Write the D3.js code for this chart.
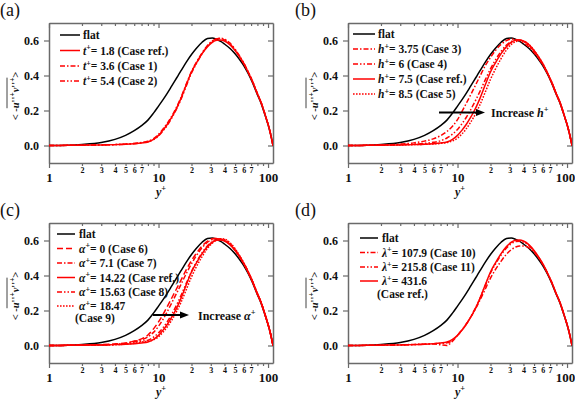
<!DOCTYPE html>
<html><head><meta charset="utf-8">
<script src="https://cdn.jsdelivr.net/npm/d3@7"></script>
<style>
html,body{margin:0;padding:0;background:#fff;}
svg text{font-family:"Liberation Serif","Times New Roman",Times,"DejaVu Serif",serif !important;}
</style></head>
<body>
<svg id="chart" width="575" height="401"></svg>
<script>
// ---------- data ----------
const yPlus = [1, 1.5, 2, 3, 4, 5, 6, 7, 8, 9, 10, 11, 12, 13, 14, 15, 16, 18, 20, 22, 25, 28, 31, 34, 37, 40, 45, 50, 55, 60, 66, 72, 80, 86, 91, 96, 100, 105, 111];

const flat = [0.000, 0.002, 0.006, 0.017, 0.035, 0.058, 0.085, 0.114, 0.145, 0.185,
  0.225, 0.262, 0.298, 0.333, 0.366, 0.397, 0.426, 0.478, 0.520, 0.553,
  0.590, 0.611, 0.614, 0.606, 0.595, 0.580, 0.554, 0.524, 0.491, 0.457,
  0.410, 0.360, 0.290, 0.245, 0.200, 0.155, 0.120, 0.070, 0.000];

const caseRef = [0.000, 0.001, 0.002, 0.003, 0.005, 0.007, 0.010, 0.014, 0.020, 0.035,
  0.058, 0.088, 0.120, 0.155, 0.190, 0.228, 0.268, 0.350, 0.420, 0.468,
  0.525, 0.565, 0.590, 0.601, 0.603, 0.597, 0.575, 0.543, 0.506, 0.468,
  0.417, 0.366, 0.294, 0.248, 0.203, 0.157, 0.121, 0.071, 0.000];

const caseT36 = [0.000, 0.001, 0.002, 0.003, 0.005, 0.008, 0.011, 0.016, 0.024, 0.040,
  0.064, 0.094, 0.126, 0.160, 0.196, 0.234, 0.273, 0.354, 0.423, 0.472,
  0.530, 0.572, 0.598, 0.610, 0.611, 0.604, 0.580, 0.547, 0.509, 0.470,
  0.419, 0.368, 0.296, 0.250, 0.205, 0.158, 0.122, 0.072, 0.000];

const caseT54 = [0.000, 0.001, 0.002, 0.003, 0.005, 0.008, 0.012, 0.017, 0.022, 0.033,
  0.055, 0.084, 0.115, 0.150, 0.186, 0.223, 0.262, 0.343, 0.414, 0.464,
  0.524, 0.568, 0.596, 0.609, 0.613, 0.608, 0.585, 0.550, 0.512, 0.472,
  0.421, 0.370, 0.297, 0.251, 0.205, 0.159, 0.123, 0.072, 0.000];

const caseH375 = [0.000, 0.001, 0.003, 0.008, 0.015, 0.025, 0.038, 0.056, 0.080, 0.110,
  0.148, 0.195, 0.240, 0.282, 0.322, 0.360, 0.395, 0.458, 0.503, 0.540,
  0.578, 0.600, 0.608, 0.606, 0.599, 0.587, 0.562, 0.531, 0.496, 0.461,
  0.413, 0.362, 0.291, 0.246, 0.201, 0.156, 0.120, 0.070, 0.000];

const caseH6 = [0.000, 0.001, 0.002, 0.005, 0.008, 0.012, 0.018, 0.027, 0.043, 0.065,
  0.092, 0.125, 0.160, 0.197, 0.235, 0.272, 0.308, 0.378, 0.438, 0.485,
  0.538, 0.574, 0.594, 0.603, 0.603, 0.595, 0.571, 0.539, 0.503, 0.465,
  0.415, 0.364, 0.292, 0.247, 0.202, 0.156, 0.120, 0.071, 0.000];

const caseH85 = [0.000, 0.001, 0.002, 0.003, 0.005, 0.007, 0.009, 0.012, 0.017, 0.026,
  0.042, 0.066, 0.095, 0.127, 0.160, 0.195, 0.232, 0.308, 0.378, 0.432,
  0.497, 0.546, 0.578, 0.594, 0.599, 0.597, 0.576, 0.544, 0.507, 0.469,
  0.418, 0.367, 0.295, 0.249, 0.204, 0.157, 0.121, 0.071, 0.000];

const caseA0 = [0.000, 0.001, 0.003, 0.005, 0.009, 0.015, 0.025, 0.038, 0.060, 0.095,
  0.135, 0.178, 0.222, 0.263, 0.302, 0.338, 0.372, 0.435, 0.485, 0.524,
  0.568, 0.597, 0.610, 0.613, 0.608, 0.599, 0.577, 0.545, 0.508, 0.469,
  0.418, 0.367, 0.295, 0.249, 0.204, 0.157, 0.121, 0.071, 0.000];

const caseA71 = [0.000, 0.001, 0.002, 0.004, 0.007, 0.012, 0.025, 0.033, 0.050, 0.075,
  0.110, 0.150, 0.193, 0.235, 0.275, 0.312, 0.348, 0.413, 0.467, 0.510,
  0.558, 0.590, 0.605, 0.610, 0.607, 0.600, 0.578, 0.545, 0.508, 0.469,
  0.418, 0.367, 0.295, 0.249, 0.204, 0.157, 0.121, 0.071, 0.000];

const caseA1563 = [0.000, 0.001, 0.002, 0.003, 0.005, 0.009, 0.020, 0.025, 0.030, 0.048,
  0.072, 0.102, 0.135, 0.170, 0.208, 0.246, 0.284, 0.358, 0.422, 0.472,
  0.530, 0.570, 0.595, 0.607, 0.609, 0.605, 0.583, 0.549, 0.511, 0.471,
  0.420, 0.368, 0.296, 0.250, 0.204, 0.158, 0.121, 0.071, 0.000];

const caseA1847 = [0.000, 0.001, 0.002, 0.003, 0.005, 0.008, 0.013, 0.020, 0.025, 0.032,
  0.050, 0.076, 0.106, 0.138, 0.172, 0.208, 0.245, 0.322, 0.392, 0.446,
  0.508, 0.555, 0.585, 0.603, 0.610, 0.608, 0.587, 0.553, 0.514, 0.474,
  0.422, 0.370, 0.297, 0.251, 0.205, 0.158, 0.122, 0.072, 0.000];

const caseL1079 = [0.000, 0.001, 0.002, 0.004, 0.006, 0.008, 0.010, 0.004, 0.000, 0.025,
  0.058, 0.090, 0.122, 0.156, 0.190, 0.224, 0.258, 0.325, 0.385, 0.430,
  0.482, 0.522, 0.548, 0.563, 0.569, 0.569, 0.558, 0.534, 0.501, 0.464,
  0.415, 0.364, 0.292, 0.247, 0.202, 0.156, 0.120, 0.070, 0.000];

const caseL2158 = [0.000, 0.001, 0.002, 0.003, 0.005, 0.007, 0.010, 0.012, 0.015, 0.030,
  0.058, 0.089, 0.122, 0.157, 0.193, 0.230, 0.268, 0.345, 0.414, 0.461,
  0.517, 0.557, 0.582, 0.594, 0.596, 0.591, 0.570, 0.539, 0.503, 0.466,
  0.416, 0.365, 0.293, 0.248, 0.203, 0.157, 0.121, 0.071, 0.000];

const xMajorTicks = [1, 10, 100];
const xMinorTicks = [2, 3, 4, 5, 6, 7, 8, 9, 20, 30, 40, 50, 60, 70, 80, 90];
const xMinorLabeled = [2, 3, 4, 5, 6, 7, 20, 30, 40, 50, 60, 70];
const yTicks = [0.0, 0.2, 0.4, 0.6];
const panelLabels = ["(a)", "(b)", "(c)", "(d)"];

// ---------- styles ----------
const DASH = {
  solid: null,
  dashdot: "5,2,1.5,2",
  dashdotdot: "5,2,1.5,2,1.5,2",
  dotted: "1.6,1.4",
  dashed: "6,3"
};
const RED = "#ff0000";
const FONT = "'Liberation Serif','Times New Roman',Times,'DejaVu Serif',serif";

const panels = [
  { ox: 0, oy: 0, labelX: 0, nudge100: 0,
    legend: { lx1: 60, lx2: 80, tx: 83, rows: [35, 50.5, 66, 81] },
    series: [
      { sym: "t", txt: "= 1.8 (Case ref.)", v: caseRef, dash: "solid" },
      { sym: "t", txt: "= 3.6 (Case 1)", v: caseT36, dash: "dashdot" },
      { sym: "t", txt: "= 5.4 (Case 2)", v: caseT54, dash: "dashdotdot" }
    ] },
  { ox: 299, oy: 0, labelX: -4, nudge100: -2,
    legend: { lx1: 54, lx2: 76, tx: 79, rows: [34, 49, 64, 79, 94] },
    series: [
      { sym: "h", txt: "= 3.75 (Case 3)", v: caseH375, dash: "dashdot" },
      { sym: "h", txt: "= 6 (Case 4)", v: caseH6, dash: "dashdotdot" },
      { sym: "h", txt: "= 7.5 (Case ref.)", v: caseRef, dash: "solid" },
      { sym: "h", txt: "= 8.5 (Case 5)", v: caseH85, dash: "dotted" }
    ],
    arrow: { x1: 140, x2: 186, y: 112.5, tx: 192, ty: 117, sym: "h" } },
  { ox: 0, oy: 200, labelX: 0, nudge100: 0,
    legend: { lx1: 57, lx2: 75, tx: 79, rows: [34, 48.5, 63, 77.5, 92, 106], extra: 117.5, extraX: 75 },
    series: [
      { sym: "α", txt: "= 0 (Case 6)", v: caseA0, dash: "dashed" },
      { sym: "α", txt: "= 7.1 (Case 7)", v: caseA71, dash: "dashdot" },
      { sym: "α", txt: "= 14.22 (Case ref.)", v: caseRef, dash: "solid" },
      { sym: "α", txt: "= 15.63 (Case 8)", v: caseA1563, dash: "dashdotdot" },
      { sym: "α", txt: "= 18.47", v: caseA1847, dash: "dotted", second: "(Case 9)" }
    ],
    arrow: { x1: 153, x2: 189, y: 115, tx: 198, ty: 119.5, sym: "α" } },
  { ox: 299, oy: 200, labelX: -4, nudge100: -2,
    legend: { lx1: 61, lx2: 79, tx: 83, rows: [38, 52.5, 67, 81], extra: 93.5, extraX: 78 },
    series: [
      { sym: "λ", txt: "= 107.9 (Case 10)", v: caseL1079, dash: "dashdot" },
      { sym: "λ", txt: "= 215.8 (Case 11)", v: caseL2158, dash: "dashdotdot" },
      { sym: "λ", txt: "= 431.6", v: caseRef, dash: "solid", second: "(Case ref.)" }
    ] }
];

const svg = d3.select("#chart");
const L = 49, R = 273, T = 23, B = 163;
const x = d3.scaleLog().domain([1, 111]).range([L, R]);
const y = d3.scaleLinear().domain([-0.1, 0.7]).range([B, T]);
const line = d3.line().x((d) => x(d[0])).y((d) => y(d[1])).curve(d3.curveMonotoneX);
const AX = "#6a6a6a";

function rich(sel, parts, size) {
  parts.forEach((p) => {
    const ts = sel.append("tspan").text(p.t);
    if (p.it) ts.attr("font-style", "italic");
    if (p.sup) ts.attr("font-size", size * 0.7).attr("dy", -size * 0.38);
    if (p.down) ts.attr("dy", size * 0.38);
  });
}

panels.forEach((P, pi) => {
  const g = svg.append("g").attr("transform", `translate(${P.ox},${P.oy})`);
  const clipId = "clip" + pi;
  g.append("clipPath").attr("id", clipId).append("rect")
    .attr("x", L).attr("y", T).attr("width", R - L).attr("height", B - T);

  g.append("text").attr("x", P.labelX).attr("y", 16).attr("font-size", 18)
    .attr("fill", "#111").style("font-family", FONT).text(panelLabels[pi]);

  const styleAxis = (a) => { a.attr("font-family", null);
    a.selectAll("path").attr("stroke", AX).attr("stroke-width", 1.5);
    a.selectAll("line").attr("stroke", AX).attr("stroke-width", 1.2);
    a.selectAll("text").style("font-family", FONT).attr("font-weight", "bold").attr("fill", "#111"); };

  const bMaj = g.append("g").attr("transform", `translate(0,${B})`)
    .call(d3.axisBottom(x).tickValues(xMajorTicks).tickSize(5).tickSizeOuter(0).tickPadding(5).tickFormat(d3.format("d")));
  bMaj.attr("font-size", 13); styleAxis(bMaj);
  bMaj.selectAll("text").filter((d) => d === 100).attr("dx", P.nudge100);
  const bMin = g.append("g").attr("transform", `translate(0,${B})`)
    .call(d3.axisBottom(x).tickValues(xMinorTicks).tickSize(3).tickSizeOuter(0).tickPadding(1.5)
      .tickFormat((d) => xMinorLabeled.includes(d) ? String(d >= 10 ? d / 10 : d) : ""));
  bMin.attr("font-size", 8); styleAxis(bMin); bMin.select("path").remove();

  const tMaj = g.append("g").attr("transform", `translate(0,${T})`)
    .call(d3.axisTop(x).tickValues(xMajorTicks).tickSize(-5).tickSizeOuter(0).tickFormat(""));
  styleAxis(tMaj);
  const tMin = g.append("g").attr("transform", `translate(0,${T})`)
    .call(d3.axisTop(x).tickValues(xMinorTicks).tickSize(-3).tickSizeOuter(0).tickFormat(""));
  styleAxis(tMin); tMin.select("path").remove();

  const lAx = g.append("g").attr("transform", `translate(${L},0)`)
    .call(d3.axisLeft(y).tickValues(yTicks).tickSize(5).tickSizeOuter(0).tickPadding(5).tickFormat(d3.format(".1f")));
  lAx.attr("font-size", 12); styleAxis(lAx);
  const rAx = g.append("g").attr("transform", `translate(${R},0)`)
    .call(d3.axisRight(y).tickValues(yTicks).tickSize(-5).tickSizeOuter(0).tickFormat(""));
  styleAxis(rAx);

  const xt = g.append("text").attr("x", 161).attr("y", 196).attr("text-anchor", "middle")
    .attr("font-size", 12).attr("font-weight", "bold").attr("fill", "#111").style("font-family", FONT);
  rich(xt, [{ t: "y", it: true }, { t: "+", sup: true }], 12);

  const yg = g.append("g").attr("transform", "translate(19,96) rotate(-90)");
  const yt = yg.append("text").attr("text-anchor", "middle").attr("font-size", 10.5)
    .attr("font-weight", "bold").attr("fill", "#111").style("font-family", FONT);
  rich(yt, [{ t: "< -" }, { t: "u", it: true }, { t: "''" }, { t: "+", sup: true },
    { t: "v", it: true, down: true }, { t: "''" }, { t: "+", sup: true }, { t: ">", down: true }], 10.5);
  const node = yt.node();
  const sx = node.getStartPositionOfChar(3).x;
  const ex = node.getEndPositionOfChar(node.getNumberOfChars() - 2).x;
  yg.append("line").attr("x1", sx).attr("x2", ex).attr("y1", -12).attr("y2", -12)
    .attr("stroke", "#111").attr("stroke-width", 0.8);

  const plot = g.append("g").attr("clip-path", `url(#${clipId})`);
  const allSeries = [{ v: flat, color: "#000", dash: "solid" }]
    .concat(P.series.map((s) => ({ v: s.v, color: RED, dash: s.dash })));
  allSeries.forEach((s) => {
    plot.append("path").datum(yPlus.map((yp, i) => [yp, s.v[i]]))
      .attr("d", line).attr("fill", "none").attr("stroke", s.color)
      .attr("stroke-width", 1.5).attr("stroke-dasharray", DASH[s.dash]);
  });

  const Lg = P.legend;
  const leg = g.append("g");
  const entries = [{ color: "#000", dash: "solid", parts: [{ t: "flat" }] }]
    .concat(P.series.map((s) => ({ color: RED, dash: s.dash,
      parts: [{ t: s.sym, it: true }, { t: "+", sup: true }, { t: s.txt, down: true }], second: s.second })));
  entries.forEach((e, i) => {
    const yy = Lg.rows[i];
    leg.append("line").attr("x1", Lg.lx1).attr("x2", Lg.lx2).attr("y1", yy).attr("y2", yy)
      .attr("stroke", e.color).attr("stroke-width", 1.5).attr("stroke-dasharray", DASH[e.dash]);
    const tx = leg.append("text").attr("x", Lg.tx).attr("y", yy + 4).attr("font-size", 11.5)
      .attr("font-weight", "bold").attr("fill", "#111").style("font-family", FONT);
    rich(tx, e.parts, 11.5);
    if (e.second) {
      leg.append("text").attr("x", Lg.extraX).attr("y", Lg.extra + 4).attr("font-size", 11.5)
        .attr("font-weight", "bold").attr("fill", "#111").style("font-family", FONT).text(e.second);
    }
  });

  if (P.arrow) {
    const A = P.arrow;
    g.append("line").attr("x1", A.x1).attr("x2", A.x2 - 6).attr("y1", A.y).attr("y2", A.y)
      .attr("stroke", "#000").attr("stroke-width", 2);
    g.append("path").attr("d", `M${A.x2},${A.y} L${A.x2 - 9},${A.y - 3.5} L${A.x2 - 9},${A.y + 3.5} Z`)
      .attr("fill", "#000");
    const at = g.append("text").attr("x", A.tx).attr("y", A.ty).attr("font-size", 12)
      .attr("font-weight", "bold").attr("fill", "#111").style("font-family", FONT);
    rich(at, [{ t: "Increase " }, { t: A.sym, it: true }, { t: "+", sup: true }], 12);
  }
});
</script>
</body></html>
